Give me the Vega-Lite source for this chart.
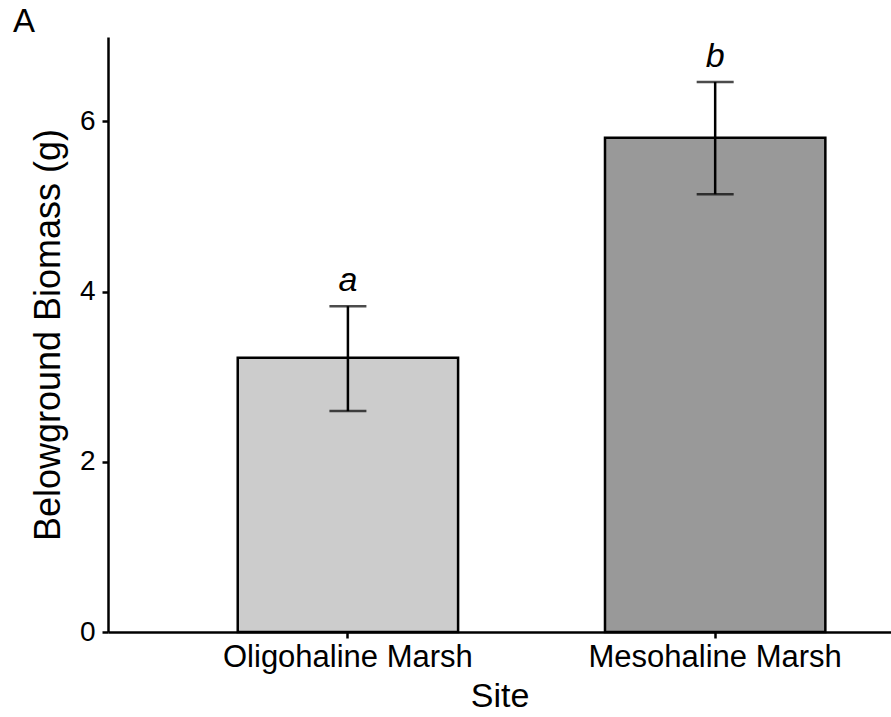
{
  "$schema": "https://vega.github.io/schema/vega-lite/v6.json",
  "width": 783,
  "height": 595,
  "autosize": "none",
  "padding": {"left": 108, "top": 37, "right": 0, "bottom": 85},
  "background": "white",
  "config": {
    "font": "Liberation Sans",
    "view": {"stroke": null},
    "axis": {"grid": false, "domainColor": "black", "domainWidth": 2.5, "tickColor": "black", "tickWidth": 2.5, "tickSize": 6, "labelColor": "black", "titleColor": "black", "titleFontWeight": "normal", "labelFont": "Liberation Sans", "titleFont": "Liberation Sans", "labelLimit": 0}
  },
  "title": {"text": "A", "anchor": "start", "frame": "group", "dx": -95, "dy": 32, "offset": 4, "baseline": "alphabetic", "fontSize": 33, "fontWeight": "normal", "font": "Liberation Sans", "color": "black"},
  "data": {
    "values": [
      {"Site": "Oligohaline Marsh", "mean": 3.222, "lower": 2.595, "upper": 3.828, "sig": "a"},
      {"Site": "Mesohaline Marsh", "mean": 5.805, "lower": 5.143, "upper": 6.462, "sig": "b"}
    ]
  },
  "encoding": {
    "x": {
      "field": "Site", "type": "nominal", "sort": ["Oligohaline Marsh", "Mesohaline Marsh"],
      "scale": {"type": "band", "paddingInner": 0.4, "paddingOuter": 0.266, "align": 0.664},
      "axis": {"labelAngle": 0, "labelFontSize": 31, "labelPadding": 4, "title": "Site", "titleFontSize": 34, "titlePadding": 7}
    }
  },
  "layer": [
    {
      "mark": {"type": "bar", "stroke": "black", "strokeWidth": 2.5},
      "encoding": {
        "y": {
          "field": "mean", "type": "quantitative",
          "scale": {"domain": [0, 6.99], "nice": false, "zero": true},
          "axis": {"values": [0, 2, 4, 6], "format": "d", "labelFontSize": 28, "labelPadding": 7, "title": "Belowground Biomass (g)", "titleFontSize": 36, "titlePadding": 12}
        },
        "fill": {"field": "Site", "type": "nominal", "scale": {"domain": ["Oligohaline Marsh", "Mesohaline Marsh"], "range": ["#cccccc", "#999999"]}, "legend": null}
      }
    },
    {
      "mark": {"type": "rule", "color": "black", "strokeWidth": 2.5},
      "encoding": {
        "y": {"field": "lower", "type": "quantitative"},
        "y2": {"field": "upper"}
      }
    },
    {
      "mark": {"type": "tick", "color": "black", "thickness": 2.5, "size": 37, "orient": "horizontal"},
      "encoding": {"y": {"field": "upper", "type": "quantitative"}}
    },
    {
      "mark": {"type": "tick", "color": "black", "thickness": 2.5, "size": 37, "orient": "horizontal"},
      "encoding": {"y": {"field": "lower", "type": "quantitative"}}
    },
    {
      "mark": {"type": "text", "fontStyle": "italic", "fontSize": 34, "dy": -15, "baseline": "alphabetic", "color": "black"},
      "encoding": {
        "y": {"field": "upper", "type": "quantitative"},
        "text": {"field": "sig"}
      }
    }
  ]
}
